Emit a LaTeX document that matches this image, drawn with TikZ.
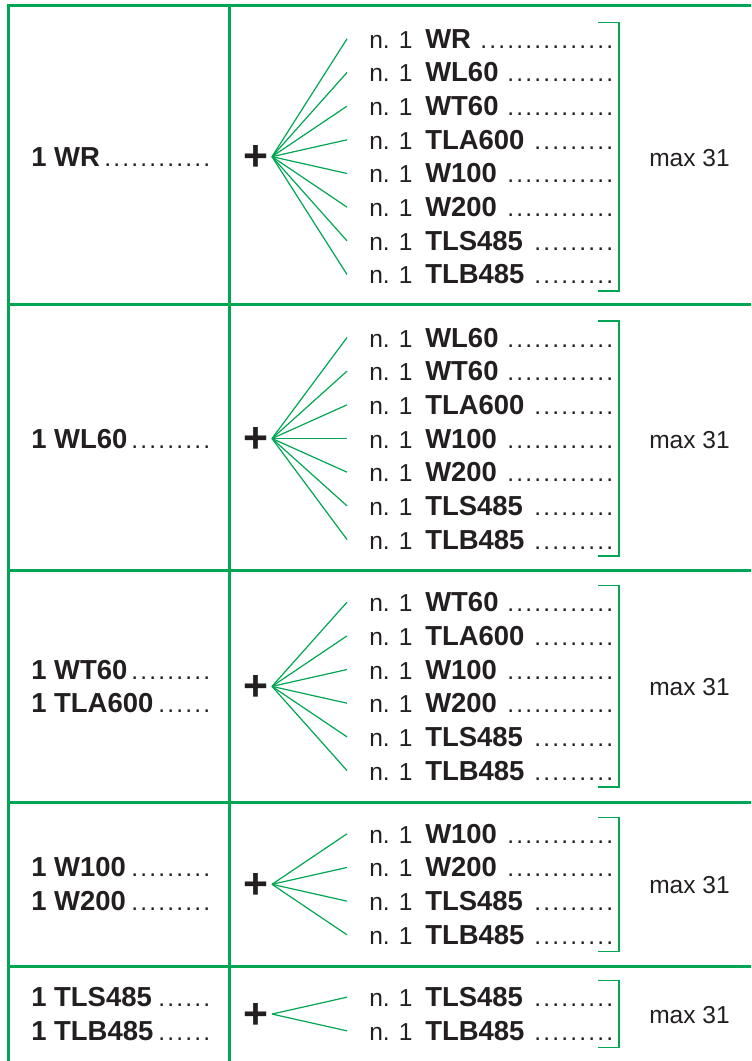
\documentclass[tikz,border=0pt]{standalone}
\usepackage{fontspec}
\setmainfont{Liberation Sans}
\usepackage{tikz}

\definecolor{tablegreen}{RGB}{0,166,81}
\definecolor{inkblack}{RGB}{35,31,32}
\newcommand{\dotlead}{{\mdseries\fontsize{18.4pt}{20pt}\selectfont\leaders\hbox to 6.75pt{\hss.\hss}\hfill}}

\tikzset{
	frame/.style={draw=tablegreen,line width=2.25pt},
	fan/.style={draw=tablegreen,line width=0.9pt},
	brack/.style={draw=tablegreen,line width=1.1pt},
	qty/.style={anchor=base west,inner sep=0pt,text=inkblack,font=\fontsize{18.4pt}{20pt}\selectfont},
	part/.style={anchor=base west,inner sep=0pt,text=inkblack,font=\fontsize{20.6pt}{22pt}\selectfont\bfseries},
	plus/.style={inner sep=0pt,text=inkblack,font=\fontsize{32pt}{34pt}\selectfont\bfseries},
}

\begin{document}
\begin{tikzpicture}[x=0.75pt,y=-0.75pt]
	\useasboundingbox (0,0) rectangle (751,1061);
	% table
	\foreach \ty in {5.5,304,570,802,966}
		\draw [frame] (7.4,\ty) -- (751,\ty);
	\draw [frame] (8.5,4.4) -- (8.5,1061);
	\draw [frame] (229,4.4) -- (229,1061);
	
	\foreach \r/\b/\n/\parts/\m/\lefts in {
		1/48.3/8/{WR,WL60,WT60,TLA600,W100,W200,TLS485,TLB485}/1/{WR},
		2/347/7/{WL60,WT60,TLA600,W100,W200,TLS485,TLB485}/1/{WL60},
		3/611.7/6/{WT60,TLA600,W100,W200,TLS485,TLB485}/2/{WT60,TLA600},
		4/843.3/4/{W100,W200,TLS485,TLB485}/2/{W100,W200},
		5/1006.7/2/{TLS485,TLB485}/2/{TLS485,TLB485}}
	{
		\pgfmathsetmacro\cb{\b+(\n-1)*33.67/2}
		\pgfmathsetmacro\bt{\b-26}
		\pgfmathsetmacro\bb{\b+(\n-1)*33.67+7}
		\coordinate (f\r) at (272,\cb-9.5);
		\node [plus] (plus\r) at (256,\cb-8) {+};
		\node [qty] (max\r) at (649,\cb) {max 31};
		\draw [brack] (598,\bt) -- (619,\bt) -- (619,\bb) -- (598,\bb);
		\foreach \p [count=\k] in \parts {
			\pgfmathsetmacro\yy{\b+(\k-1)*33.67}
			\node [qty] (q\r-\k) at (369,\yy) {n. 1};
			\node [part] (p\r-\k) at (425,\yy) {\makebox[141.75pt][l]{\p\hspace{3pt}\dotlead}};
			\coordinate (e\r-\k) at (347,\yy-9.5);
			\path [fan] (f\r) edge (e\r-\k);
		}
		\foreach \l [count=\j] in \lefts {
			\pgfmathsetmacro\yl{\cb+(\j-(\m+1)/2)*33.67}
			\node [part] (l\r-\j) at (31,\yl) {\makebox[135pt][l]{1 \l\hspace{1pt}\dotlead}};
		}
	}
\end{tikzpicture}
\end{document}
